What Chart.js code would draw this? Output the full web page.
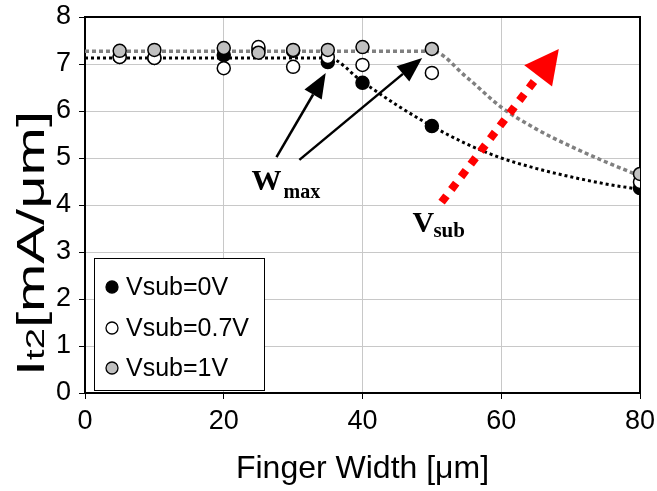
<!DOCTYPE html>
<html>
<head>
<meta charset="utf-8">
<script src="https://cdn.jsdelivr.net/npm/chart.js@4.4.1/dist/chart.umd.min.js"></script>
<style>
  html, body { margin: 0; padding: 0; background: #fff; }
</style>
</head>
<body>
<canvas id="chart" width="657" height="491"></canvas>
<script>
// finger width [um]
const fingerWidths = [5, 10, 20, 25, 30, 35, 40, 50, 80];
// It2 [mA/um] for each substrate bias
const it2Vsub0 = [7.15, 7.13, 7.19, 7.30, 7.28, 7.04, 6.60, 5.68, 4.36];
const it2Vsub07 = [7.15, 7.13, 6.91, 7.36, 6.94, 7.15, 6.98, 6.81, 4.49];
const it2Vsub1 = [7.28, 7.30, 7.34, 7.24, 7.30, 7.30, 7.36, 7.32, 4.66];
const seriesLabels = ['Vsub=0V', 'Vsub=0.7V', 'Vsub=1V'];

// hand-drawn guide curves
const guide0X = [0, 35, 40, 45, 50, 55, 60, 65, 70, 75, 80];
const guide0Y = [7.13, 7.13, 6.62, 6.12, 5.68, 5.30, 5.00, 4.78, 4.60, 4.45, 4.33];
const guide1X = [0, 50, 55, 60, 65, 70, 75, 80];
const guide1Y = [7.27, 7.27, 6.72, 6.08, 5.62, 5.25, 4.92, 4.62];

const SANS = '"Liberation Sans", Arial, sans-serif';
const SERIF = '"Liberation Serif", "Times New Roman", serif';

const pts = (xs, ys) => xs.map((x, i) => ({ x: x, y: ys[i] }));

function drawArrow(ctx, x0, y0, x1, y1, o) {
    const a = Math.atan2(y1 - y0, x1 - x0);
    const bx = x1 - o.headLen * Math.cos(a);
    const by = y1 - o.headLen * Math.sin(a);
    ctx.save();
    ctx.strokeStyle = o.color;
    ctx.lineWidth = o.width;
    ctx.lineCap = 'butt';
    ctx.setLineDash(o.dash || []);
    ctx.beginPath();
    ctx.moveTo(x0, y0);
    ctx.lineTo(bx, by);
    ctx.stroke();
    ctx.setLineDash([]);
    const px = -Math.sin(a) * o.headWidth / 2;
    const py = Math.cos(a) * o.headWidth / 2;
    ctx.fillStyle = o.color;
    ctx.beginPath();
    ctx.moveTo(x1, y1);
    ctx.lineTo(bx + px, by + py);
    ctx.lineTo(bx - px, by - py);
    ctx.closePath();
    ctx.fill();
    ctx.restore();
}

// frame, arrows, labels, legend and axis titles
const decor = {
    id: 'decor',
    beforeDatasetsDraw(chart) {
        const { ctx, chartArea: a } = chart;
        ctx.save();
        ctx.strokeStyle = '#000';
        ctx.lineWidth = 2;
        ctx.strokeRect(a.left, a.top, a.right - a.left, a.bottom - a.top);
        ctx.restore();
    },
    afterDatasetsDraw(chart) {
        const { ctx, scales: { x, y } } = chart;
        const X = v => x.getPixelForValue(v);
        const Y = v => y.getPixelForValue(v);

        // Wmax arrows
        drawArrow(ctx, X(27.6), Y(5.02), X(34.7), Y(6.81), { color: '#000', width: 2.5, headLen: 25, headWidth: 20 });
        drawArrow(ctx, X(30.9), Y(4.96), X(48.6), Y(7.13), { color: '#000', width: 2.5, headLen: 25, headWidth: 20 });
        // Vsub arrow
        drawArrow(ctx, X(51.4), Y(4.06), X(68.3), Y(7.32), { color: '#ff0000', width: 8, dash: [8, 8], headLen: 34, headWidth: 35 });

        ctx.save();
        ctx.fillStyle = '#000';
        ctx.textBaseline = 'alphabetic';
        ctx.textAlign = 'left';
        ctx.font = 'bold 30px ' + SERIF;
        ctx.fillText('W', X(24.0), Y(4.32));
        ctx.font = 'bold 20px ' + SERIF;
        ctx.fillText('max', X(24.0) + 32, Y(4.32) + 8);
        ctx.font = 'bold 30px ' + SERIF;
        ctx.fillText('V', X(47.2), Y(3.43));
        ctx.font = 'bold 21px ' + SERIF;
        ctx.fillText('sub', X(47.2) + 21, Y(3.43) + 5);
        ctx.restore();

        // legend box
        const lx = 94, ly = 258, lw = 170, lh = 132;
        ctx.save();
        ctx.fillStyle = '#fff';
        ctx.fillRect(lx, ly, lw, lh);
        ctx.strokeStyle = '#000';
        ctx.lineWidth = 1;
        ctx.strokeRect(lx + 0.5, ly + 0.5, lw, lh);
        ctx.font = '25px ' + SANS;
        ctx.textBaseline = 'middle';
        const rows = [287, 328, 368];
        chart.data.datasets.filter(d => d.inLegend).forEach((d, i) => {
            ctx.beginPath();
            ctx.arc(lx + 18, rows[i], 6, 0, Math.PI * 2);
            ctx.fillStyle = d.backgroundColor;
            ctx.fill();
            ctx.strokeStyle = '#000';
            ctx.lineWidth = 1.3;
            ctx.stroke();
            ctx.fillStyle = '#000';
            ctx.fillText(d.label, lx + 32, rows[i] + 1);
        });
        ctx.restore();
    },
    afterDraw(chart) {
        const { ctx, chartArea: a } = chart;
        ctx.save();
        ctx.fillStyle = '#000';
        ctx.textAlign = 'center';
        ctx.textBaseline = 'alphabetic';
        ctx.font = '32px ' + SANS;
        ctx.fillText('Finger Width [\u03bcm]', (a.left + a.right) / 2, 478);

        // y title, reading upward, with subscript; stretched along its length
        const big = '38px ' + SANS, small = '25px ' + SANS;
        ctx.font = big;
        const wI = ctx.measureText('I').width;
        const wU = ctx.measureText('[mA/\u03bcm]').width;
        ctx.font = small;
        const wS = ctx.measureText('t2').width;
        const stretch = 265 / (wI + wS + wU);
        ctx.translate(44, 376);
        ctx.rotate(-Math.PI / 2);
        ctx.scale(stretch, 1);
        ctx.textAlign = 'left';
        ctx.font = big;
        ctx.fillText('I', 0, 0);
        ctx.font = small;
        ctx.fillText('t2', wI, 0);
        ctx.font = big;
        ctx.fillText('[mA/\u03bcm]', wI + wS, 0);
        ctx.restore();
    }
};

const marker = (label, data, fill, order) => ({
    label: label,
    data: pts(fingerWidths, data),
    backgroundColor: fill,
    borderColor: '#000',
    borderWidth: 1.5,
    pointRadius: 6.5,
    showLine: false,
    order: order,
    inLegend: true
});

const guide = (data, color, dash, width) => ({
    label: '',
    data: data,
    showLine: true,
    borderColor: color,
    borderWidth: width,
    borderDash: dash,
    borderCapStyle: 'butt',
    cubicInterpolationMode: 'monotone',
    pointRadius: 0,
    order: 5
});

new Chart(document.getElementById('chart'), {
    type: 'scatter',
    data: {
        datasets: [
            marker(seriesLabels[0], it2Vsub0, '#000000', 3),
            marker(seriesLabels[1], it2Vsub07, '#ffffff', 2),
            marker(seriesLabels[2], it2Vsub1, '#c0c0c0', 1),
            guide(pts(guide1X, guide1Y), '#808080', [4, 3], 3.5),
            guide(pts(guide0X, guide0Y), '#000000', [3, 3], 3)
        ]
    },
    options: {
        responsive: false,
        animation: false,
        devicePixelRatio: 1,
        layout: { padding: { top: 17, right: 17, left: 0, bottom: 0 } },
        plugins: { legend: { display: false }, tooltip: { enabled: false } },
        scales: {
            x: {
                type: 'linear',
                min: 0,
                max: 80,
                afterFit: s => { s.height = 98; s.paddingLeft = 0; s.paddingRight = 0; },
                ticks: { stepSize: 20, color: '#000', font: { family: SANS, size: 27 }, padding: 6, maxRotation: 0 },
                grid: { color: '#c8c8c8', lineWidth: 1, tickColor: '#000', tickLength: 6 },
                border: { color: '#000', width: 2 }
            },
            y: {
                type: 'linear',
                min: 0,
                max: 8,
                afterFit: s => { s.width = 85; s.paddingTop = 0; s.paddingBottom = 0; },
                ticks: { stepSize: 1, color: '#000', font: { family: SANS, size: 27 }, padding: 8 },
                grid: { color: '#c8c8c8', lineWidth: 1, tickColor: '#000', tickLength: 6 },
                border: { color: '#000', width: 2 }
            }
        }
    },
    plugins: [decor]
});
</script>
</body>
</html>
